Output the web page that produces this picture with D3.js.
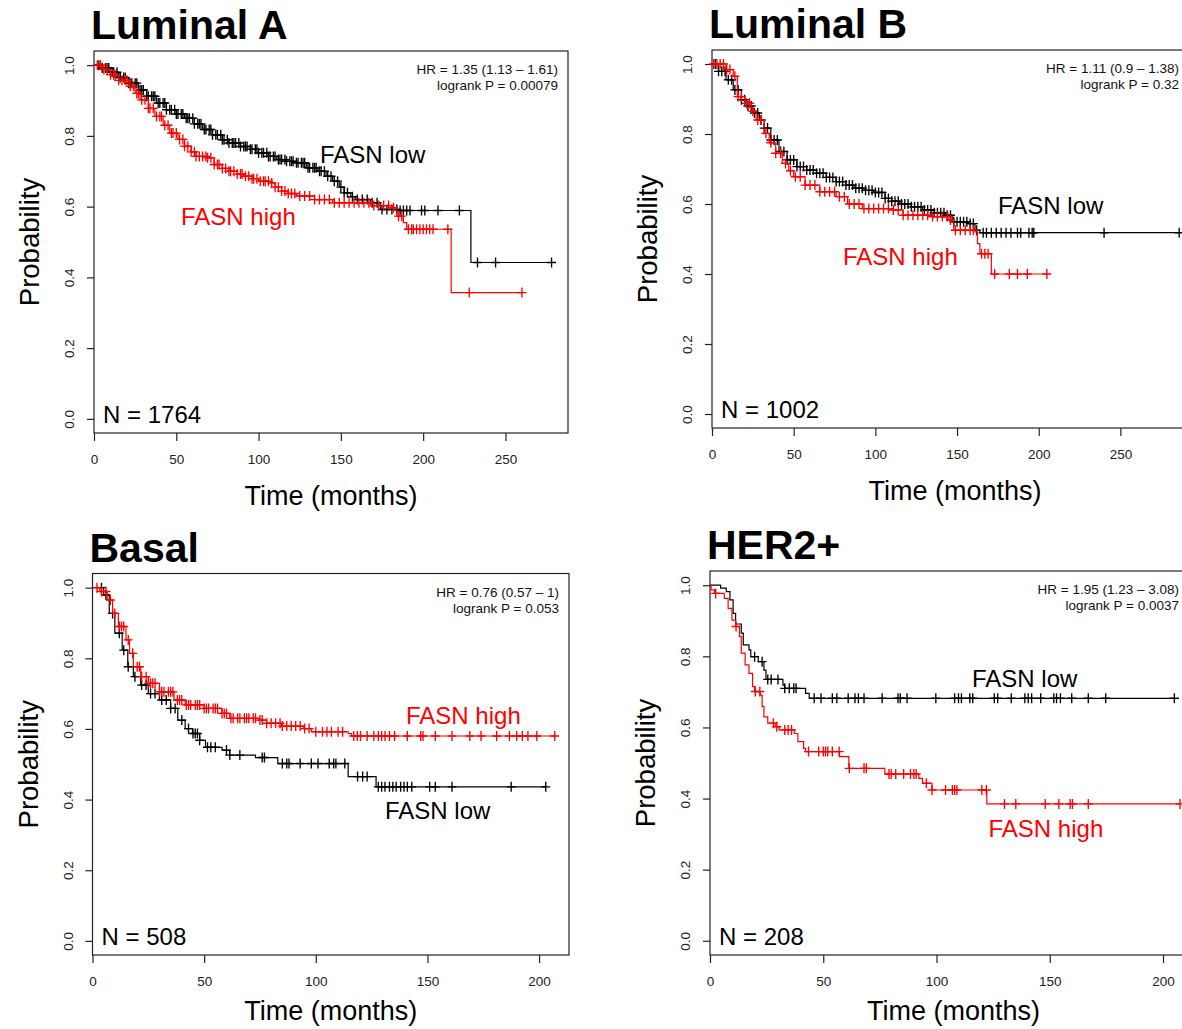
<!DOCTYPE html>
<html lang="en">
<head>
<meta charset="utf-8">
<title>FASN survival by subtype</title>
<script src="https://d3js.org/d3.v7.min.js"></script>
<style>
  body { margin: 0; background: #fff; }
  svg { display: block; font-family: "Liberation Sans", Arial, Helvetica, sans-serif; }
</style>
</head>
<body>
<div id="chart"></div>
<script>
// ---- data: step points [months, survival], censor times, per subtype ----
const ticksY = [0, 0.2, 0.4, 0.6, 0.8, 1.0];

// Luminal A
const lumA_low = [[0,1],[5,0.992],[10,0.98],[15,0.965],[21,0.949],[27,0.93],[32,0.912],[38,0.893],[44,0.874],[50,0.862],[55,0.85],[61,0.834],[66,0.818],[72,0.803],[78,0.789],[82,0.78],[89,0.77],[95,0.762],[100,0.752],[106,0.742],[111,0.733],[117,0.728],[123,0.724],[129,0.71],[136,0.70],[141,0.686],[145,0.672],[149,0.655],[152,0.639],[156,0.628],[159,0.62],[168,0.611],[174,0.592],[186,0.589],[229,0.442],[278,0.442]];
const lumA_lowCens = [3,5,7,8,9,11,12,14,15,16,18,19,21,22,23,25,26,28,29,30,32,33,35,36,37,39,40,42,43,44,46,47,49,50,51,53,54,56,57,58,60,61,63,64,65,67,68,70,71,72,74,75,77,78,79,81,82,84,85,86,88,89,91,92,93,95,96,98,99,100,102,103,105,106,107,109,110,112,113,114,116,117,119,120,121,123,124,126,127,128,130,131,133,134,135,137,138,140,142,144,146,148,150,152,154,157,160,163,166,169,172,175,178,181,184,186,188,190,192,199,201,209,222,233,244,278];
const lumA_high = [[0,1],[5,0.988],[10,0.973],[15,0.957],[21,0.94],[25,0.92],[28,0.902],[33,0.878],[37,0.855],[42,0.83],[46,0.808],[51,0.79],[55,0.771],[59,0.755],[62,0.742],[69,0.738],[73,0.719],[78,0.708],[82,0.70],[87,0.692],[91,0.686],[96,0.679],[100,0.672],[107,0.667],[110,0.655],[114,0.644],[118,0.637],[123,0.63],[134,0.62],[145,0.611],[168,0.603],[181,0.597],[184,0.573],[188,0.555],[190,0.536],[217,0.357],[260,0.357]];
const lumA_highCens = [2,4,6,8,10,12,13,15,17,19,20,22,24,26,27,29,31,33,34,36,38,40,41,43,45,47,48,50,52,54,55,57,59,61,62,64,66,68,69,71,73,75,76,78,80,82,83,85,87,89,90,92,94,96,97,99,101,103,104,106,108,110,112,114,116,118,120,122,125,128,131,134,137,140,143,146,149,152,155,158,161,164,167,170,173,176,179,182,185,187,191,193,194,196,198,200,202,204,206,215,228,260];

// Luminal B
const lumB_low = [[0,1],[4,0.979],[8.6,0.955],[13,0.926],[18,0.898],[21,0.88],[25,0.86],[29,0.84],[32,0.817],[36,0.783],[41,0.75],[46,0.726],[52,0.707],[58,0.697],[64,0.688],[70,0.676],[76,0.664],[82,0.654],[87,0.645],[93,0.639],[99,0.633],[106,0.616],[110,0.608],[115,0.60],[122,0.592],[129,0.583],[136,0.575],[143,0.568],[147,0.549],[157,0.544],[161,0.525],[164,0.518],[286,0.518]];
const lumB_lowCens = [2,4,6,8,10,12,14,16,18,20,22,24,26,28,30,32,34,36,38,40,42,44,46,48,50,52,54,56,58,60,62,64,66,68,70,72,74,76,78,80,82,84,86,88,90,92,94,96,98,100,102,104,106,108,110,112,114,116,118,120,122,124,126,128,130,132,134,136,138,140,142,144,146,148,150,152,154,156,158,160,162,166,168,171,174,177,180,183,187,189,194,196,197,240,286];
const lumB_high = [[0,1],[8.6,0.984],[13,0.965],[15.5,0.907],[20,0.888],[24,0.865],[27,0.84],[32,0.802],[35,0.775],[39,0.745],[43,0.716],[47,0.695],[50,0.678],[57,0.654],[66,0.635],[76,0.621],[83,0.60],[92,0.587],[110,0.583],[117,0.568],[134,0.564],[145,0.554],[148,0.525],[161,0.52],[162.5,0.487],[164,0.458],[171,0.40],[205,0.40]];
const lumB_highCens = [1,3,5,7,9,11,14,16,18,21,23,25,28,30,33,36,39,42,45,48,51,54,57,60,63,66,69,72,75,78,81,84,87,90,93,96,99,102,105,108,111,114,117,120,123,126,129,132,135,138,141,144,146,149,152,155,158,160,165,167,169,173,182,187,193,205];

// Basal
const basal_low = [[0,1],[5,0.979],[7.5,0.927],[10,0.871],[13.3,0.823],[15.8,0.776],[18.3,0.748],[21.6,0.724],[25,0.70],[30,0.682],[35,0.658],[38.2,0.625],[41.5,0.601],[44.8,0.587],[48,0.568],[50.6,0.548],[58,0.54],[61.4,0.526],[73,0.519],[83,0.502],[114.5,0.465],[127,0.436],[203,0.436]];
const basal_lowCens = [4,6,9,12,14,16,19,22,24,26,28,31,33,35,37,40,43,45,46,47,48,51.5,53,55,60,61.5,66,76,77,85,87,88,93,98,101,106,108,109,113,118.7,121,123,128,129.5,131,133,134.5,136,138,139.5,141,143,151,153.5,161,187.5,203];
const basal_high = [[0,1],[3.3,0.989],[6.6,0.965],[9,0.927],[11.6,0.89],[15,0.852],[16.6,0.814],[18.3,0.776],[21.6,0.748],[25,0.729],[30,0.705],[36.5,0.682],[41.5,0.668],[50,0.658],[58,0.644],[61.4,0.63],[75,0.625],[78,0.616],[84.6,0.608],[94.6,0.601],[98,0.592],[114.5,0.587],[116,0.58],[207,0.58]];
const basal_highCens = [2,4,6,8,10,12,13,14,16,18,20,21,22,24,25,26,27,28,30,31,32,34,35,36,38,39,40,42,43,44,46,47,48,50,51,52,54,55,56,58,59,60,62,63,65,66,68,69,70,72,73,75,76,78,80,82,84,85,87,89,91,93,95,97,100,103,105,107,110,112,117,118.6,120,123,126,128,129.5,131,133,135.3,141,147,148,153.5,161,169,174,181,186.7,190,192.5,195,199,207];

// HER2+
const her2_low = [[0,1],[4.7,0.992],[7.2,0.982],[8.8,0.959],[10.2,0.921],[11.3,0.891],[13.8,0.865],[14.7,0.832],[17.2,0.818],[18,0.799],[21.3,0.785],[23.8,0.761],[24.7,0.735],[32.2,0.719],[33,0.71],[42.2,0.696],[43.8,0.682],[205,0.682]];
const her2_lowCens = [19.7,23,25.5,27,30,33,35,37,38,46,49,54,56,61,64,65.5,68,76,83,84,87,99.7,108,109.7,111,114.7,116,125.5,127,133,139,140.5,142,146,151.8,153,154.7,159.7,167,174.7,205];
const her2_high = [[0,1],[0.5,0.987],[2,0.977],[6.3,0.963],[8,0.935],[9.7,0.902],[11.3,0.884],[13,0.856],[13.8,0.809],[15.5,0.776],[17.2,0.752],[18.8,0.715],[19.7,0.701],[22.2,0.691],[23,0.659],[23.8,0.63],[25.5,0.612],[28.8,0.602],[30.5,0.593],[37.2,0.583],[38.8,0.56],[41.3,0.541],[42.2,0.532],[57.2,0.518],[61.3,0.485],[77.2,0.469],[92.2,0.457],[93.8,0.443],[98,0.424],[122.2,0.385],[207.5,0.385]];
const her2_highCens = [2.5,11.5,20,22,28,29.5,33,34.5,36,43.5,48,50,51,52,54,57,61.5,68,69,79,80,82,85.5,88.5,90,91,95.5,98,104,107,108,109,120,122,130,135,148,154,159,160,167,207.5];

// ---- layout ----
const W = 1182, H = 1029;
const svg = d3.select("#chart").append("svg").attr("width", W).attr("height", H);

const panels = [
  { title: "Luminal A", left: 94, right: 568, top: 51, bottom: 433, xMax: 288, xTicks: [0,50,100,150,200,250],
    low: lumA_low, lowCens: lumA_lowCens, high: lumA_high, highCens: lumA_highCens,
    hr: "HR = 1.35 (1.13 \u2013 1.61)", p: "logrank P = 0.00079", n: "N = 1764",
    lowLab: [226, 112], highLab: [87, 174], timeY: 72 },
  { title: "Luminal B", left: 712, right: 1198, top: 50, bottom: 428, xMax: 297.5, xTicks: [0,50,100,150,200,250],
    low: lumB_low, lowCens: lumB_lowCens, high: lumB_high, highCens: lumB_highCens,
    hr: "HR = 1.11 (0.9 \u2013 1.38)", p: "logrank P = 0.32", n: "N = 1002",
    lowLab: [286, 164], highLab: [131, 215], timeY: 72 },
  { title: "Basal", left: 92.5, right: 569, top: 573.5, bottom: 955, xMax: 213.4, xTicks: [0,50,100,150,200],
    low: basal_low, lowCens: basal_lowCens, high: basal_high, highCens: basal_highCens,
    hr: "HR = 0.76 (0.57 \u2013 1)", p: "logrank P = 0.053", n: "N = 508",
    lowLab: [292.5, 245], highLab: [313.5, 150.5], timeY: 65 },
  { title: "HER2+", left: 710, right: 1197, top: 571, bottom: 955, xMax: 215, xTicks: [0,50,100,150,200],
    low: her2_low, lowCens: her2_lowCens, high: her2_high, highCens: her2_highCens,
    hr: "HR = 1.95 (1.23 \u2013 3.08)", p: "logrank P = 0.0037", n: "N = 208",
    lowLab: [262, 115.5], highLab: [278.5, 265.5], timeY: 65 }
];

// survival value at time t from a step list
function survAt(steps, t) {
  let s = steps[0][1];
  for (const [tt, v] of steps) { if (tt <= t) s = v; else break; }
  return s;
}

const axisCol = "#222";

panels.forEach(p => {
  const g = svg.append("g");
  const x = d3.scaleLinear().domain([0, p.xMax]).range([p.left, p.right]);
  const y = d3.scaleLinear().domain([-0.04, 1.04]).range([p.bottom, p.top]);

  // title
  g.append("text").attr("x", p.left - 3).attr("y", p.top - 12)
    .attr("font-size", 41).attr("font-weight", "bold").attr("fill", "#000").text(p.title);

  // box
  g.append("rect").attr("x", p.left).attr("y", p.top)
    .attr("width", p.right - p.left).attr("height", p.bottom - p.top)
    .attr("fill", "none").attr("stroke", axisCol).attr("stroke-width", 1.2);

  // x axis
  const xa = g.append("g").attr("transform", `translate(0,${p.bottom})`)
    .call(d3.axisBottom(x).tickValues(p.xTicks).tickFormat(d3.format("d")).tickSize(8).tickPadding(13));
  xa.select(".domain").remove();
  xa.selectAll("line").attr("stroke", axisCol).attr("stroke-width", 1.2);
  xa.selectAll("text").attr("font-size", 13.5).attr("fill", "#222").attr("font-family", null);

  // y axis, labels rotated like R
  const ya = g.append("g").attr("transform", `translate(${p.left},0)`)
    .call(d3.axisLeft(y).tickValues(ticksY).tickFormat(d3.format(".1f")).tickSize(7));
  ya.select(".domain").remove();
  ya.selectAll("line").attr("stroke", axisCol).attr("stroke-width", 1.2);
  ya.selectAll("text").attr("font-size", 13.5).attr("fill", "#222").attr("font-family", null)
    .attr("x", 0).attr("y", -20).attr("dy", 0)
    .attr("transform", "rotate(-90)").style("text-anchor", "middle");

  // axis titles
  g.append("text").attr("x", (p.left + p.right) / 2).attr("y", p.bottom + p.timeY)
    .attr("text-anchor", "middle").attr("font-size", 27).text("Time (months)");
  g.append("text")
    .attr("transform", `translate(${p.left - 55},${(p.top + p.bottom) / 2}) rotate(-90)`)
    .attr("text-anchor", "middle").attr("font-size", 27.5).text("Probability");

  // curves
  const line = d3.line().x(d => x(d[0])).y(d => y(d[1])).curve(d3.curveStepAfter);
  const cross = "M-4.5,0H4.5M0,-5V5";
  [[p.low, p.lowCens, "#000"], [p.high, p.highCens, "red"]].forEach(([steps, cens, col]) => {
    g.append("path").datum(steps).attr("d", line)
      .attr("fill", "none").attr("stroke", col).attr("stroke-width", 1.2);
    g.selectAll(null).data(cens).enter().append("path")
      .attr("d", cross)
      .attr("transform", t => `translate(${x(t)},${y(survAt(steps, t))})`)
      .attr("stroke", col).attr("stroke-width", 1.35).attr("fill", "none");
  });

  // annotations (kept inside the page width)
  const hrX = Math.min(p.right - 10, W - 3);
  g.append("text").attr("x", hrX).attr("y", p.top + 23)
    .attr("text-anchor", "end").attr("font-size", 13.5).attr("fill", "#111").text(p.hr);
  g.append("text").attr("x", hrX).attr("y", p.top + 39)
    .attr("text-anchor", "end").attr("font-size", 13.5).attr("fill", "#111").text(p.p);
  g.append("text").attr("x", p.left + 9).attr("y", p.bottom - 10)
    .attr("font-size", 24).attr("fill", "#000").text(p.n);
  g.append("text").attr("x", p.left + p.lowLab[0]).attr("y", p.top + p.lowLab[1])
    .attr("font-size", 24).attr("fill", "#000").text("FASN low");
  g.append("text").attr("x", p.left + p.highLab[0]).attr("y", p.top + p.highLab[1])
    .attr("font-size", 24).attr("fill", "red").text("FASN high");
});
</script>
</body>
</html>
